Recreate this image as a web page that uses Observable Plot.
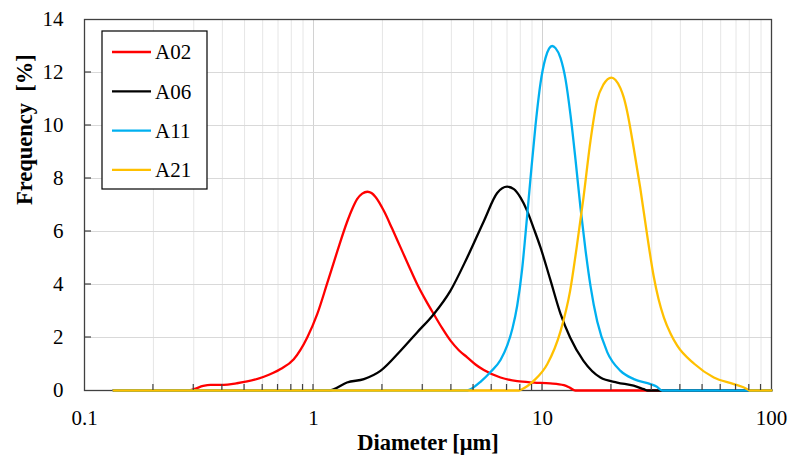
<!DOCTYPE html>
<html><head><meta charset="utf-8">
<script src="https://cdn.jsdelivr.net/npm/d3@7"></script>
<script src="https://cdn.jsdelivr.net/npm/@observablehq/plot@0.6"></script>
<style>body{margin:0;background:#fff}#chart{width:792px;height:465px}</style>
</head><body><div id="chart"></div>
<script>
const seriesNames = ["A02", "A06", "A11", "A21"];
const seriesColors = ["#ff0000", "#000000", "#00b0f0", "#ffc000"];

const a02Diameter = [0.134, 0.28, 0.30, 0.33, 0.355, 0.406, 0.46, 0.513, 0.607, 0.718, 0.82, 0.939, 1.038, 1.148, 1.27, 1.40, 1.476, 1.55, 1.632, 1.72, 1.792, 1.866, 2.028, 2.207, 2.399, 2.608, 2.837, 3.084, 3.352, 3.648, 3.966, 4.311, 4.690, 5.098, 5.543, 6.555, 7.753, 9.2, 10.8, 12.4, 13.2, 13.9, 30, 100];
const a02Freq     = [0, 0, 0.05, 0.17, 0.21, 0.21, 0.27, 0.34, 0.52, 0.81, 1.18, 2.0, 2.88, 4.05, 5.25, 6.35, 6.85, 7.22, 7.43, 7.5, 7.45, 7.3, 6.78, 6.1, 5.40, 4.7, 4.01, 3.42, 2.88, 2.35, 1.88, 1.52, 1.25, 0.98, 0.77, 0.49, 0.35, 0.3, 0.27, 0.2, 0.1, 0, 0, 0];

const a06Diameter = [0.134, 1.18, 1.23, 1.40, 1.66, 1.96, 2.40, 2.84, 3.35, 3.96, 4.69, 5.55, 6.34, 7.01, 7.5, 8.02, 8.57, 9.17, 9.80, 10.8, 12.0, 13.2, 15.1, 17.9, 21.2, 25.0, 27.7, 28.8, 100];
const a06Freq     = [0, 0, 0.05, 0.30, 0.43, 0.74, 1.5, 2.2, 2.88, 3.76, 5.02, 6.4, 7.45, 7.69, 7.6, 7.28, 6.78, 6.1, 5.4, 4.2, 2.88, 2.0, 1.12, 0.49, 0.30, 0.18, 0.05, 0, 0];

const a11Diameter = [0.134, 4.7, 4.85, 5.36, 5.93, 6.555, 7.015, 7.396, 7.753, 8.153, 8.428, 8.862, 9.320, 9.802, 10.31, 10.68, 11.03, 11.40, 11.98, 12.60, 13.25, 13.94, 14.65, 15.41, 16.20, 17.34, 19.17, 21.91, 25.05, 29.62, 31.46, 33.32, 100];
const a11Freq     = [0, 0, 0.05, 0.33, 0.7, 1.15, 1.7, 2.35, 3.2, 4.6, 5.9, 8.0, 10.0, 11.6, 12.55, 12.9, 13.0, 12.92, 12.55, 11.75, 10.4, 8.7, 6.9, 5.3, 3.95, 2.6, 1.45, 0.74, 0.43, 0.24, 0.15, 0, 0];

const a21Diameter = [0.134, 7.9, 8.02, 9.17, 10.5, 12.0, 13.2, 14.1, 15.1, 16.2, 17.3, 18.5, 20.0, 20.84, 21.91, 22.65, 23.4, 25.0, 26.7, 28.6, 30.6, 32.11, 33.9, 36.22, 38.7, 46.1, 56.0, 68.5, 78.4, 80, 100];
const a21Freq     = [0, 0, 0.02, 0.37, 1.0, 2.25, 3.76, 5.4, 7.28, 9.42, 10.93, 11.56, 11.81, 11.72, 11.4, 11.05, 10.55, 9.17, 7.66, 5.9, 4.3, 3.45, 2.75, 2.15, 1.7, 1.0, 0.49, 0.24, 0.05, 0, 0];

const xTickValues = [0.1, 1, 10, 100];
const xMinorValues = [0.2, 0.3, 0.4, 0.5, 0.6, 0.7, 0.8, 0.9, 2, 3, 4, 5, 6, 7, 8, 9, 20, 30, 40, 50, 60, 70, 80, 90];
const yTickValues = [0, 2, 4, 6, 8, 10, 12, 14];

const seriesData = [[a02Diameter, a02Freq], [a06Diameter, a06Freq], [a11Diameter, a11Freq], [a21Diameter, a21Freq]];
const rows = [];
seriesData.forEach(([ds, fs], k) => ds.forEach((d, i) => rows.push({series: seriesNames[k], diameter: d, freq: fs[i]})));

const font = '"Liberation Serif", "Times New Roman", serif';

const plot = Plot.plot({
  width: 792, height: 465,
  marginLeft: 84, marginRight: 21, marginTop: 19, marginBottom: 75,
  style: {fontFamily: font, fontSize: "21px", color: "#000", background: "#fff", overflow: "visible"},
  x: {type: "log", domain: [0.1, 100]},
  y: {domain: [0, 14]},
  color: {domain: seriesNames, range: seriesColors},
  marks: [
    Plot.ruleX(xMinorValues, {stroke: "#e6e6e6", strokeWidth: 1}),
    Plot.ruleX(xTickValues, {stroke: "#d2d2d2", strokeWidth: 1}),
    Plot.ruleY(yTickValues, {stroke: "#d9d9d9", strokeWidth: 1}),
    Plot.axisX(xTickValues, {tickSize: 0, tickPadding: 20, tickFormat: d => String(d), label: null, fontFamily: font, fontSize: 21}),
    Plot.axisY(yTickValues, {tickSize: 0, tickPadding: 21, label: null, fontFamily: font, fontSize: 21}),
    Plot.frame({stroke: "#404040", strokeWidth: 1.3}),
    Plot.line(rows, {x: "diameter", y: "freq", z: "series", stroke: "series", strokeWidth: 2.3, curve: "monotone-x"}),
    Plot.text(["Diameter [μm]"], {text: d => d, frameAnchor: "bottom", dy: 59.5, fontWeight: "bold", fontSize: 22.5, fontFamily: font}),
    Plot.text(["Frequency\u00a0 [%]"], {text: d => d, frameAnchor: "left", dx: -60, rotate: -90, fontWeight: "bold", fontSize: 22.5, fontFamily: font})
  ]
});

// inward tick marks, positioned through the plot's own scales
const xs = plot.scale("x"), ys = plot.scale("y");
const svg = d3.select(plot);
const tg = svg.append("g").attr("stroke", "#404040").attr("stroke-width", 1.2);
const y0 = ys.apply(0), xLeft = xs.apply(0.1);
xMinorValues.concat([1, 10]).forEach(v => {
  const x = xs.apply(v);
  tg.append("line").attr("x1", x).attr("x2", x).attr("y1", y0).attr("y2", y0 - 6);
});
yTickValues.slice(1, -1).forEach(v => {
  const y = ys.apply(v);
  tg.append("line").attr("x1", xLeft).attr("x2", xLeft + 7).attr("y1", y).attr("y2", y);
});

// legend box inside the plot area
const lg = svg.append("g").attr("font-family", font).attr("font-size", 21).attr("text-anchor", "start");
lg.append("rect").attr("x", 102).attr("y", 31).attr("width", 105).attr("height", 158)
  .attr("fill", "#fff").attr("stroke", "#000").attr("stroke-width", 1.2);
seriesNames.forEach((name, i) => {
  const cy = 52 + i * 39.3;
  lg.append("line").attr("x1", 112).attr("x2", 151).attr("y1", cy).attr("y2", cy)
    .attr("stroke", seriesColors[i]).attr("stroke-width", 2.3);
  lg.append("text").attr("x", 155).attr("y", cy).attr("dy", "0.35em").attr("fill", "#000").text(name);
});

document.getElementById("chart").appendChild(plot);
</script>
</body></html>
